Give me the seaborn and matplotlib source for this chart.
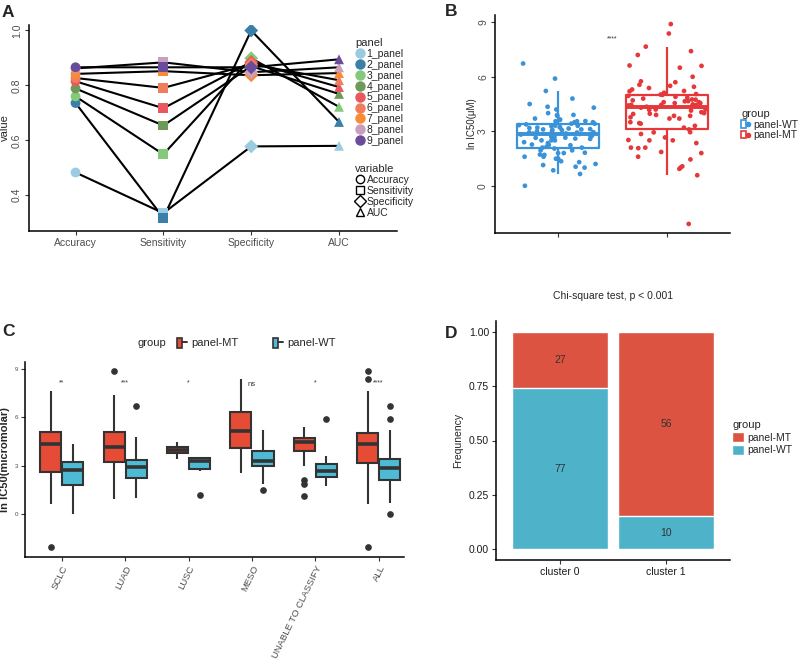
import numpy as np
import pandas as pd
import matplotlib
matplotlib.use('Agg')
import matplotlib.pyplot as plt
import seaborn as sns
from matplotlib.lines import Line2D
from matplotlib.patches import Patch
from matplotlib.legend_handler import HandlerTuple

# ---- dati pannello A (metriche per pannello) ----
panels = ['1_panel', '2_panel', '3_panel', '4_panel', '5_panel',
          '6_panel', '7_panel', '8_panel', '9_panel']
variables = ['Accuracy', 'Sensitivity', 'Specificity', 'AUC']
accuracy = [0.483, 0.736, 0.760, 0.789, 0.815, 0.827, 0.842, 0.862, 0.866]
sensitivity = [0.335, 0.318, 0.549, 0.654, 0.717, 0.791, 0.852, 0.884, 0.866]
specificity = [0.578, 1.000, 0.899, 0.870, 0.885, 0.877, 0.837, 0.848, 0.866]
auc = [0.580, 0.667, 0.722, 0.769, 0.794, 0.819, 0.845, 0.866, 0.895]
panel_colors = ['#9BCBE0', '#3A7FA8', '#84C97C', '#6E9A58', '#E8585E',
                '#EE7E5C', '#F98B34', '#C8A0BE', '#6B4C9A']

# ---- dati pannelli B / C (ln IC50 per sottotipo) ----
subtypes = ['SCLC', 'LUAD', 'LUSC', 'MESO', 'UNABLE TO CLASSIFY', 'ALL']
sclc_mt = [-2.1, 0.58, 1.0, 1.45, 1.8, 2.1, 2.35, 2.5, 2.66, 2.95, 3.2, 3.45, 3.7,
           3.95, 4.2, 4.35, 4.45, 4.55, 4.65, 4.75, 4.85, 4.95, 5.02, 5.12, 5.3,
           5.5, 5.7, 6.0, 6.6, 7.2, 7.66]
sclc_wt = [0.0, 0.65, 0.85, 1.05, 1.2, 1.35, 1.5, 1.6, 1.72, 1.8, 1.95, 2.1, 2.25,
           2.4, 2.5, 2.58, 2.64, 2.69, 2.75, 2.82, 2.88, 2.95, 3.0, 3.06, 3.12,
           3.18, 3.22, 3.3, 3.42, 3.55, 3.7, 3.85, 4.0, 4.2, 4.35]
luad_mt = [0.93, 1.6, 2.1, 2.5, 2.85, 3.1, 3.3, 3.5, 3.7, 3.85, 4.0, 4.18, 4.3,
           4.45, 4.6, 4.8, 5.0, 5.22, 5.45, 5.75, 6.5, 7.41, 8.9]
luad_wt = [1.0, 1.3, 1.6, 1.8, 1.95, 2.05, 2.15, 2.23, 2.35, 2.5, 2.6, 2.7, 2.8,
           2.87, 2.93, 3.0, 3.08, 3.15, 3.22, 3.28, 3.34, 3.38, 3.5, 3.65, 3.9,
           4.3, 4.8, 6.73]
lusc_mt = [3.42, 3.77, 3.97, 4.14, 4.45]
lusc_wt = [1.14, 2.65, 3.2, 3.42, 3.5, 3.56]
meso_mt = [2.52, 3.9, 4.7, 5.56, 6.62, 8.38]
meso_wt = [1.49, 1.82, 2.94, 3.1, 3.31, 3.55, 3.89, 4.5, 5.22]
unable_mt = [1.07, 1.86, 2.07, 2.94, 3.85, 4.05, 4.2, 4.35, 4.42, 4.48, 4.55,
             4.6, 4.66, 4.74, 4.9, 5.05, 5.2, 5.38]
unable_wt = [1.7, 2.1, 2.27, 2.5, 2.65, 2.85, 3.1, 3.62, 5.9]
signif = ['**', '***', '*', 'ns', '*', '****']

# ---- dati pannello D ----
clusters = ['cluster 0', 'cluster 1']
wt_counts = [77, 10]
mt_counts = [27, 56]

col_mt = '#E64B35'
col_wt = '#4DBBD5'
col_b_wt = '#3A93D8'
col_b_mt = '#E4383A'
grey = '#4D4D4D'

sns.set_theme(style='ticks')
plt.rcParams['font.family'] = ['Liberation Sans', 'DejaVu Sans']
plt.rcParams['axes.linewidth'] = 1.1
plt.rcParams['xtick.major.size'] = 3
plt.rcParams['ytick.major.size'] = 3

W, H = 800, 659
fig = plt.figure(figsize=(8, 6.59), dpi=100)


def px_axes(l, t, r, b):
    # assi posizionati in pixel
    return fig.add_axes([l / W, 1 - b / H, (r - l) / W, (b - t) / H])


def classic(ax):
    sns.despine(ax=ax)
    ax.spines['left'].set_color('black')
    ax.spines['bottom'].set_color('black')
    ax.tick_params(colors='#333333', labelcolor=grey, width=0.8, pad=2)


def ylab_at(ax, x_px, l_px, r_px):
    # posizione etichetta asse y in pixel della figura
    ax.yaxis.set_label_coords((x_px - l_px) / (r_px - l_px), 0.5)


# ================= A =================
axa = px_axes(29, 25, 397, 231)
df_a = pd.DataFrame({
    'panel': panels * 4,
    'variable': np.repeat(variables, len(panels)),
    'value': accuracy + sensitivity + specificity + auc,
})
df_a['x'] = df_a['variable'].map({v: i for i, v in enumerate(variables)})
sns.lineplot(data=df_a, x='x', y='value', units='panel', estimator=None,
             color='black', linewidth=1.5, ax=axa)
marker_map = {'Accuracy': 'o', 'Sensitivity': 's', 'Specificity': 'D', 'AUC': '^'}
sns.scatterplot(data=df_a, x='x', y='value', hue='panel', style='variable',
                markers=marker_map, palette=panel_colors, s=50, linewidth=0,
                legend=False, ax=axa, zorder=3)
axa.set_xlim(-0.53, 3.66)
axa.set_ylim(0.27, 1.02)
axa.set_xticks(range(4))
axa.set_xticklabels(variables, fontsize=7.5)
axa.set_yticks([0.4, 0.6, 0.8, 1.0])
axa.set_yticklabels(['0.4', '0.6', '0.8', '1.0'], rotation=90, va='center', fontsize=7.5)
axa.set_xlabel('')
axa.set_ylabel('value', fontsize=8)
classic(axa)
ylab_at(axa, 10, 29, 397)

h_panel = [Line2D([], [], marker='o', ls='', color=c, markersize=6.5) for c in panel_colors]
leg1 = fig.legend(h_panel, panels, title='panel', loc='upper left',
                  bbox_to_anchor=(350 / W, 1 - 33 / H), frameon=False,
                  fontsize=7.5, title_fontsize=8, handletextpad=0.1,
                  labelspacing=0.08, borderpad=0, handlelength=1.0,
                  alignment='left')
h_var = [Line2D([], [], marker=marker_map[v], ls='', mfc='none', mec='black',
                mew=1, markersize=6) for v in variables]
leg2 = fig.legend(h_var, variables, title='variable', loc='upper left',
                  bbox_to_anchor=(350 / W, 1 - 159 / H), frameon=False,
                  fontsize=7.5, title_fontsize=8, handletextpad=0.1,
                  labelspacing=0.08, borderpad=0, handlelength=1.0,
                  alignment='left')

# ================= B =================
axb = px_axes(495, 15, 730, 233)
wt_all = sclc_wt + luad_wt + lusc_wt + meso_wt + unable_wt
mt_all = sclc_mt + luad_mt + lusc_mt + meso_mt + unable_mt
df_b = pd.DataFrame({
    'group': ['panel-WT'] * len(wt_all) + ['panel-MT'] * len(mt_all),
    'ic50': wt_all + mt_all,
})
order_b = ['panel-WT', 'panel-MT']
pal_b = {'panel-WT': col_b_wt, 'panel-MT': col_b_mt}
sns.boxplot(data=df_b, x='group', y='ic50', hue='group', order=order_b,
            palette=pal_b, fill=False, width=0.75, linewidth=1.6,
            showfliers=False, legend=False, saturation=1,
            medianprops={'linewidth': 2.8}, capprops={'linewidth': 0}, ax=axb)
np.random.seed(7)
sns.stripplot(data=df_b, x='group', y='ic50', hue='group', order=order_b,
              palette=pal_b, jitter=0.36, size=3.4, linewidth=0,
              legend=False, ax=axb, zorder=3)
axb.text(0.5, 8.1, '****', ha='center', va='center', fontsize=5, color='#333333')
axb.set_xlim(-0.58, 1.58)
axb.set_ylim(-2.6, 9.4)
axb.set_yticks([0, 3, 6, 9])
axb.set_yticklabels(['0', '3', '6', '9'], rotation=90, va='center', fontsize=7.5)
axb.set_xticks([0, 1])
axb.set_xticklabels(['', ''])
axb.set_xlabel('')
axb.set_ylabel('ln IC50(μM)', fontsize=7)
classic(axb)
ylab_at(axb, 477, 495, 730)

h_b = [(Patch(facecolor='white', edgecolor=pal_b[g], linewidth=1.2),
        Line2D([], [], marker='o', ls='', color=pal_b[g], markersize=3))
       for g in order_b]
fig.legend(h_b, order_b, title='group', loc='upper left',
           bbox_to_anchor=(736 / W, 1 - 104 / H), frameon=False,
           fontsize=7.5, title_fontsize=8, handletextpad=0.3,
           labelspacing=0.05, borderpad=0, handlelength=0.9,
           alignment='left', handler_map={tuple: HandlerTuple(ndivide=None)})

# ================= C =================
axc = px_axes(25, 362, 404, 557)
sub_mt = [sclc_mt, luad_mt, lusc_mt, meso_mt, unable_mt, mt_all]
sub_wt = [sclc_wt, luad_wt, lusc_wt, meso_wt, unable_wt, wt_all]
rows = []
for s, vm, vw in zip(subtypes, sub_mt, sub_wt):
    rows += [(s, 'panel-MT', v) for v in vm]
    rows += [(s, 'panel-WT', v) for v in vw]
df_c = pd.DataFrame(rows, columns=['subtype', 'group', 'ic50'])
sns.boxplot(data=df_c, x='subtype', y='ic50', hue='group', order=subtypes,
            hue_order=['panel-MT', 'panel-WT'],
            palette={'panel-MT': col_mt, 'panel-WT': col_wt}, saturation=1,
            linecolor='#333333', linewidth=1.5, width=0.7, gap=0.05,
            medianprops={'linewidth': 2.6}, capprops={'linewidth': 0},
            flierprops={'marker': 'o', 'markerfacecolor': '#333333',
                        'markeredgecolor': '#333333', 'markersize': 3.8},
            legend=False, ax=axc)
for i, lab in enumerate(signif):
    axc.text(i, 8.05 if lab == 'ns' else 8.15, lab, ha='center', va='center',
             fontsize=5.5 if lab == 'ns' else 5, color='#333333')
axc.set_xlim(-0.58, 5.4)
axc.set_ylim(-2.7, 9.45)
axc.set_yticks([0, 3, 6, 9])
axc.set_yticklabels(['0', '3', '6', '9'], fontsize=4.5)
axc.set_xticks(range(len(subtypes)))
axc.set_xticklabels(subtypes, rotation=64, ha='right', rotation_mode='anchor',
                    fontsize=6.8)
axc.set_xlabel('')
axc.set_ylabel('ln IC50(micromolar)', fontsize=8, fontweight='bold')
classic(axc)
ylab_at(axc, 10, 25, 404)

fig.text(138 / W, 1 - 343 / H, 'group', fontsize=8, va='center', ha='left')
h_c = [(Patch(facecolor=c, edgecolor='#333333', linewidth=1.2),
        Line2D([], [], color='#333333', lw=1.4)) for c in [col_mt, col_wt]]
fig.legend(h_c, ['panel-MT', 'panel-WT'], loc='center left', ncol=2,
           bbox_to_anchor=(171 / W, 1 - 343 / H), frameon=False, fontsize=8,
           handletextpad=0.4, columnspacing=3.1, borderpad=0, handlelength=0.9,
           handleheight=1.0, handler_map={tuple: HandlerTuple(ndivide=None)})

# ================= D =================
axd = px_axes(496, 321, 730, 560)
tot = np.array(wt_counts) + np.array(mt_counts)
wt_frac = np.array(wt_counts) / tot
df_d = pd.DataFrame({'cluster': clusters, 'total': 1.0, 'wt': wt_frac})
sns.barplot(data=df_d, x='cluster', y='total', color='#DC5341', width=0.9,
            saturation=1, ax=axd)
sns.barplot(data=df_d, x='cluster', y='wt', color='#4EB3C9', width=0.9,
            saturation=1, ax=axd)
for i in range(len(clusters)):
    axd.text(i, wt_frac[i] / 2, str(wt_counts[i]), ha='center', va='center',
             fontsize=7.5, color='#333333')
    axd.text(i, (wt_frac[i] + 1) / 2, str(mt_counts[i]), ha='center', va='center',
             fontsize=7.5, color='#333333')
axd.set_xlim(-0.6, 1.6)
axd.set_ylim(-0.05, 1.05)
axd.set_yticks([0, 0.25, 0.5, 0.75, 1.0])
axd.set_yticklabels(['0.00', '0.25', '0.50', '0.75', '1.00'], fontsize=7.5)
axd.set_xticks([0, 1])
axd.set_xticklabels(clusters, fontsize=7.5)
axd.set_xlabel('')
axd.set_ylabel('Frequnency', fontsize=7.5)
axd.set_title('Chi-square test, p < 0.001', fontsize=7.5, pad=16)
classic(axd)
axd.tick_params(labelcolor='#1A1A1A')

h_d = [Patch(facecolor='#DC5341'), Patch(facecolor='#4EB3C9')]
fig.legend(h_d, ['panel-MT', 'panel-WT'], title='group', loc='upper left',
           bbox_to_anchor=(727 / W, 1 - 415 / H), frameon=False, fontsize=7.5,
           title_fontsize=8, handletextpad=0.35, labelspacing=0.2, borderpad=0,
           handlelength=1.1, handleheight=1.1, alignment='left')

# lettere dei pannelli
for lab, x, y in [('A', 2, 5), ('B', 445, 4), ('C', 2, 324), ('D', 445, 326)]:
    fig.text(x / W, 1 - y / H, lab, fontsize=12.5, fontweight='bold',
             va='top', ha='left')

fig.savefig('out.png', dpi=100)
